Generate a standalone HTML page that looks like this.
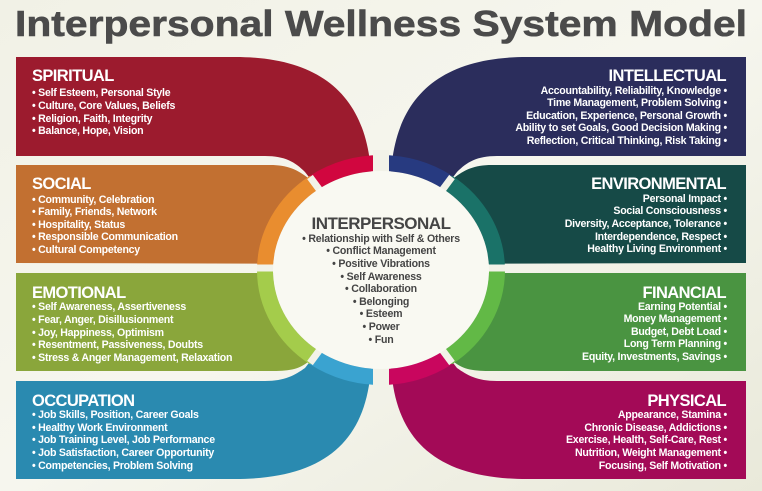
<!DOCTYPE html>
<html><head><meta charset="utf-8"><style>
html,body{margin:0;padding:0;width:762px;height:491px;overflow:hidden;background:#eeeee2}
svg{display:block}
.t{font-family:"Liberation Sans",sans-serif;font-weight:bold;fill:#fff}
.h{font-size:16.5px;letter-spacing:-0.6px}
.i{font-size:10.6px;letter-spacing:-0.25px}
.c{font-family:"Liberation Sans",sans-serif;font-weight:bold;fill:#454545;text-anchor:middle}
</style></head><body>
<svg width="762" height="491" viewBox="0 0 762 491" xmlns="http://www.w3.org/2000/svg">
<defs>
<linearGradient id="bg" x1="0" y1="0" x2="1" y2="1">
<stop offset="0" stop-color="#f1f1e6"/><stop offset="0.5" stop-color="#f6f6ee"/><stop offset="1" stop-color="#e9e9da"/>
</linearGradient>
</defs>
<rect width="762" height="491" fill="url(#bg)"/>
<text x="381" y="36" text-anchor="middle" font-family="Liberation Sans, sans-serif" font-weight="bold" font-size="36" fill="#4b4b4b" stroke="#4b4b4b" stroke-width="0.6" textLength="732" lengthAdjust="spacingAndGlyphs">Interpersonal Wellness System Model</text>

<!-- left bands -->
<path fill="#9c1b2e" d="M16,57 H235 C320,57 362,95 370,162 L381,270 L305,172 C295,162 285,156 265,156 H16 Z"/>
<path fill="#c27031" d="M16,165 H270 C288,165 298,170 308,178 L381,270 L381,264 L16,263 Z"/>
<path fill="#8aa63b" d="M16,273 H381 L381,270 L308,362 C298,370 288,371 270,371 H16 Z"/>
<path fill="#2a8ab0" d="M16,381 H265 C285,381 295,375 305,368 L381,270 L370,378 C362,445 320,479 235,479 H16 Z"/>
<g transform="translate(762,0) scale(-1,1)">
<path fill="#2b2d5c" d="M16,57 H235 C320,57 362,95 370,162 L381,270 L305,172 C295,162 285,156 265,156 H16 Z"/>
<path fill="#164a47" d="M16,165 H270 C288,165 298,170 308,178 L381,270 L381,264 L16,263 Z"/>
<path fill="#4a9441" d="M16,273 H381 L381,270 L308,362 C298,370 288,371 270,371 H16 Z"/>
<path fill="#a30a57" d="M16,381 H265 C285,381 295,375 305,368 L381,270 L370,378 C362,445 320,479 235,479 H16 Z"/>
</g>

<g fill="none" stroke-width="16">
<path stroke="#d1063f" d="M314.5,182.3 A116,107 0 0 1 381,163"/>
<path stroke="#e98d2f" d="M265,270 A116,107 0 0 1 314.5,182.3"/>
<path stroke="#a4cc4b" d="M265,270 A116,107 0 0 0 314.5,357.7"/>
<path stroke="#3aa3d0" d="M314.5,357.7 A116,107 0 0 0 381,377"/>
<path stroke="#273a80" d="M447.5,182.3 A116,107 0 0 0 381,163"/>
<path stroke="#1a7268" d="M497,270 A116,107 0 0 0 447.5,182.3"/>
<path stroke="#62b946" d="M497,270 A116,107 0 0 1 447.5,357.7"/>
<path stroke="#c9065e" d="M447.5,357.7 A116,107 0 0 1 381,377"/>
</g>
<g stroke="#f2f2e8" stroke-width="7">
<line x1="381" y1="185" x2="381" y2="150" stroke-width="16"/>
<line x1="381" y1="355" x2="381" y2="390" stroke-width="16"/>
<line x1="330" y1="204" x2="310" y2="177"/>
<line x1="432" y1="204" x2="452" y2="177"/>
<line x1="330" y1="336" x2="310" y2="363"/>
<line x1="432" y1="336" x2="452" y2="363"/>
<line x1="290" y1="268" x2="257" y2="268"/>
<line x1="472" y1="268" x2="505" y2="268"/>
</g>
<ellipse cx="381" cy="270" rx="108" ry="99" fill="#f9f9f2"/>

<text class="c" x="381" y="229" font-size="17" letter-spacing="-0.5">INTERPERSONAL</text>
<g class="c" font-size="10.6" letter-spacing="-0.2">
<text x="381" y="242">• Relationship with Self &amp; Others</text>
<text x="381" y="254">• Conflict Management</text>
<text x="381" y="267">• Positive Vibrations</text>
<text x="381" y="280">• Self Awareness</text>
<text x="381" y="292">• Collaboration</text>
<text x="381" y="305">• Belonging</text>
<text x="381" y="317">• Esteem</text>
<text x="381" y="330">• Power</text>
<text x="381" y="343">• Fun</text>
</g>

<g class="t">
<text class="h" x="32" y="81">SPIRITUAL</text>
<text class="i" x="32" y="96">• Self Esteem, Personal Style</text>
<text class="i" x="32" y="109">• Culture, Core Values, Beliefs</text>
<text class="i" x="32" y="122">• Religion, Faith, Integrity</text>
<text class="i" x="32" y="134">• Balance, Hope, Vision</text>

<text class="h" x="32" y="189">SOCIAL</text>
<text class="i" x="32" y="203">• Community, Celebration</text>
<text class="i" x="32" y="215">• Family, Friends, Network</text>
<text class="i" x="32" y="228">• Hospitality, Status</text>
<text class="i" x="32" y="240">• Responsible Communication</text>
<text class="i" x="32" y="253">• Cultural Competency</text>

<text class="h" x="32" y="298">EMOTIONAL</text>
<text class="i" x="32" y="310">• Self Awareness, Assertiveness</text>
<text class="i" x="32" y="323">• Fear, Anger, Disillusionment</text>
<text class="i" x="32" y="336">• Joy, Happiness, Optimism</text>
<text class="i" x="32" y="348">• Resentment, Passiveness, Doubts</text>
<text class="i" x="32" y="361">• Stress &amp; Anger Management, Relaxation</text>

<text class="h" x="32" y="406">OCCUPATION</text>
<text class="i" x="32" y="418">• Job Skills, Position, Career Goals</text>
<text class="i" x="32" y="431">• Healthy Work Environment</text>
<text class="i" x="32" y="443">• Job Training Level, Job Performance</text>
<text class="i" x="32" y="456">• Job Satisfaction, Career Opportunity</text>
<text class="i" x="32" y="469">• Competencies, Problem Solving</text>
</g>

<g class="t" text-anchor="end">
<text class="h" x="726" y="81">INTELLECTUAL</text>
<text class="i" x="727" y="94">Accountability, Reliability, Knowledge •</text>
<text class="i" x="727" y="106">Time Management, Problem Solving •</text>
<text class="i" x="727" y="119">Education, Experience, Personal Growth •</text>
<text class="i" x="727" y="131">Ability to set Goals, Good Decision Making •</text>
<text class="i" x="727" y="144">Reflection, Critical Thinking, Risk Taking •</text>

<text class="h" x="726" y="189">ENVIRONMENTAL</text>
<text class="i" x="727" y="202">Personal Impact •</text>
<text class="i" x="727" y="214">Social Consciousness •</text>
<text class="i" x="727" y="227">Diversity, Acceptance, Tolerance •</text>
<text class="i" x="727" y="240">Interdependence, Respect •</text>
<text class="i" x="727" y="252">Healthy Living Environment •</text>

<text class="h" x="726" y="298">FINANCIAL</text>
<text class="i" x="727" y="310">Earning Potential •</text>
<text class="i" x="727" y="322">Money Management •</text>
<text class="i" x="727" y="335">Budget, Debt Load •</text>
<text class="i" x="727" y="347">Long Term Planning •</text>
<text class="i" x="727" y="360">Equity, Investments, Savings •</text>

<text class="h" x="726" y="406">PHYSICAL</text>
<text class="i" x="727" y="418">Appearance, Stamina •</text>
<text class="i" x="727" y="431">Chronic Disease, Addictions •</text>
<text class="i" x="727" y="443">Exercise, Health, Self-Care, Rest •</text>
<text class="i" x="727" y="456">Nutrition, Weight Management •</text>
<text class="i" x="727" y="469">Focusing, Self Motivation •</text>
</g>
</svg>
</body></html>
